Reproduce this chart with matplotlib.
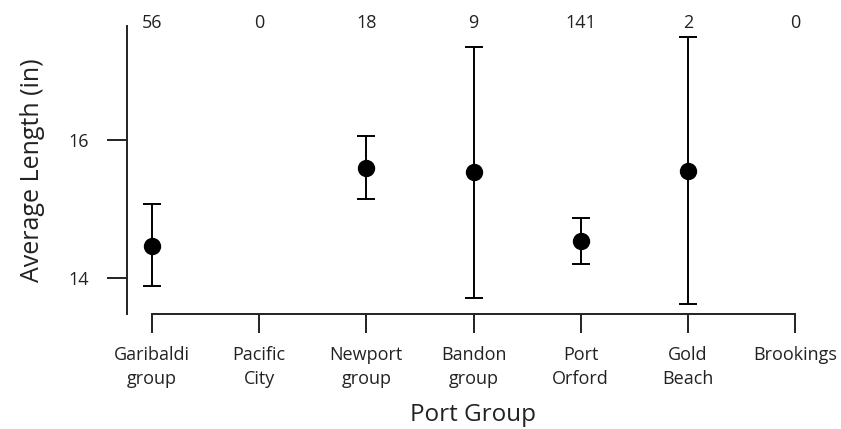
import matplotlib
matplotlib.use("Agg")
import matplotlib.pyplot as plt
import numpy as np

ports = ["Garibaldi\ngroup", "Pacific\nCity", "Newport\ngroup", "Bandon\ngroup",
         "Port\nOrford", "Gold\nBeach", "Brookings"]
counts = [56, 0, 18, 9, 141, 2, 0]
# mean and confidence bounds (nan = no fish sampled)
means = [14.46, np.nan, 15.59, 15.54, 14.54, 15.55, np.nan]
lower = [13.88, np.nan, 15.14, 13.71, 14.20, 13.62, np.nan]
upper = [15.07, np.nan, 16.06, 17.35, 14.87, 17.49, np.nan]

plt.rcParams["font.family"] = ["Open Sans", "DejaVu Sans"]
text_color = "#222222"

W, H = 841, 429
fig = plt.figure(figsize=(W / 100, H / 100), dpi=100)
left, right, top, bottom = 127, 820, 26, 314
ax = fig.add_axes([left / W, 1 - bottom / H, (right - left) / W, (bottom - top) / H])

x = np.arange(1, len(ports) + 1)
m = np.array(means)
err = np.vstack([m - np.array(lower), np.array(upper) - m])
ax.errorbar(x, m, yerr=err, fmt="o", color="black", markersize=11.5,
            capsize=6.5, elinewidth=1.4, capthick=1.4)

px_per_unit = (795 - 152) / 6
ax.set_xlim(1 - (152 - left) / px_per_unit, 7 + (right - 795) / px_per_unit)
ax.set_ylim(13.48, 17.65)

for s in ["top", "right"]:
    ax.spines[s].set_visible(False)
ax.spines["bottom"].set_bounds(1, 7)
for s in ["left", "bottom"]:
    ax.spines[s].set_linewidth(1.4)
    ax.spines[s].set_color(text_color)

ax.set_xticks(x)
ax.set_xticklabels(ports, fontsize=13, color=text_color, linespacing=1.4)
ax.set_yticks([14, 16])
ax.set_yticklabels(["14", "16"], fontsize=13, color=text_color)
ax.tick_params(axis="x", length=14, width=1.4, pad=9, color=text_color)
ax.tick_params(axis="y", length=14.5, width=1.4, pad=13, color=text_color)

for xi, c in zip(x, counts):
    ax.text(xi, 1.012, str(c), transform=ax.get_xaxis_transform(),
            ha="center", va="center", fontsize=13, color=text_color)

ax.set_xlabel("Port Group", fontsize=17.5, color=text_color, labelpad=11)
ax.set_ylabel("Average Length (in)", fontsize=18, color=text_color, labelpad=17)

fig.savefig("out.png", dpi=100)
